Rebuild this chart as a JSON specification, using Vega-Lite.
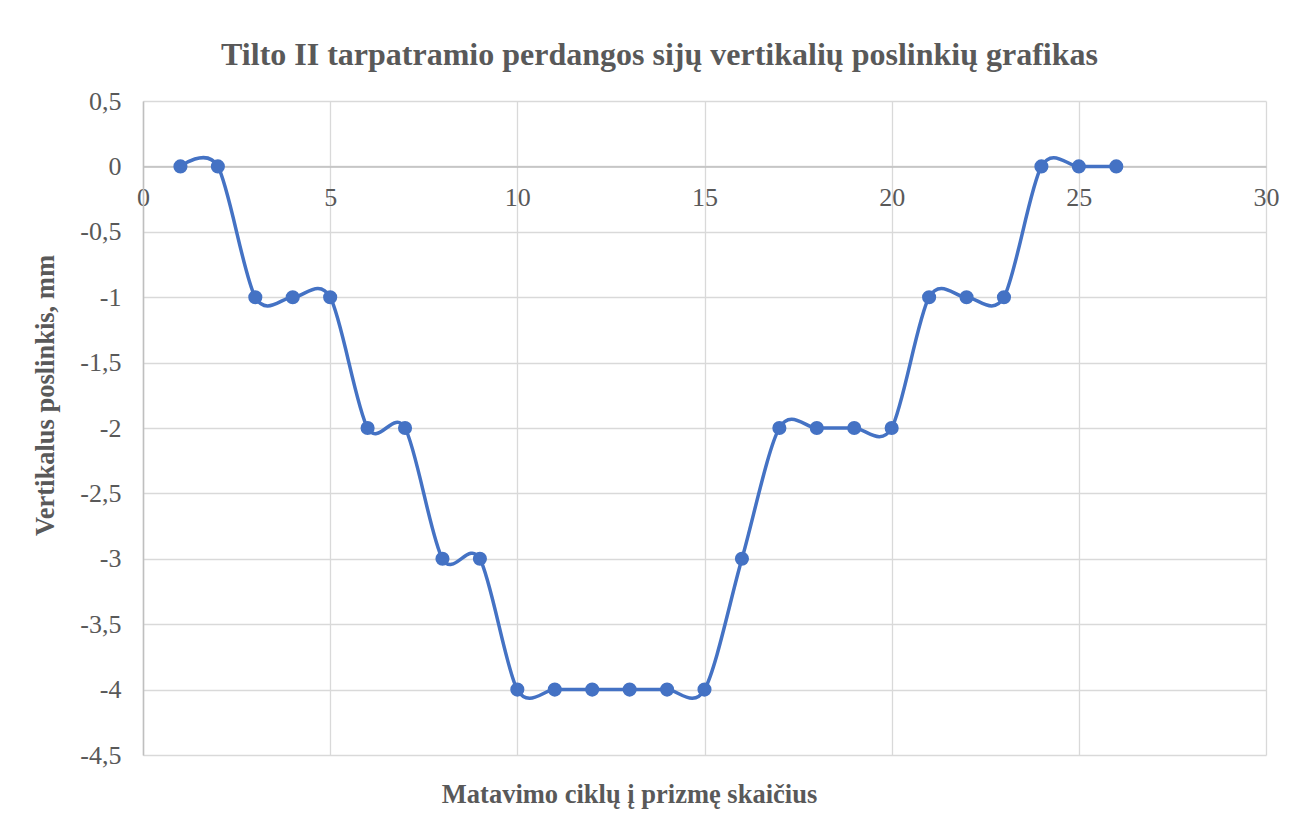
{
  "$schema": "https://vega.github.io/schema/vega-lite/v6.json",
  "autosize": "none",
  "width": 1123,
  "height": 654,
  "padding": {"left": 143, "top": 101, "right": 34, "bottom": 62},
  "background": "white",
  "title": {
    "text": "Tilto II tarpatramio perdangos sijų vertikalių poslinkių grafikas",
    "font": "Liberation Serif",
    "fontSize": 32,
    "fontWeight": "bold",
    "color": "#595959",
    "anchor": "middle",
    "dx": -45,
    "baseline": "alphabetic",
    "offset": -9
  },
  "data": {
    "values": [
      {"ciklas": 1, "poslinkis": 0},
      {"ciklas": 2, "poslinkis": 0},
      {"ciklas": 3, "poslinkis": -1},
      {"ciklas": 4, "poslinkis": -1},
      {"ciklas": 5, "poslinkis": -1},
      {"ciklas": 6, "poslinkis": -2},
      {"ciklas": 7, "poslinkis": -2},
      {"ciklas": 8, "poslinkis": -3},
      {"ciklas": 9, "poslinkis": -3},
      {"ciklas": 10, "poslinkis": -4},
      {"ciklas": 11, "poslinkis": -4},
      {"ciklas": 12, "poslinkis": -4},
      {"ciklas": 13, "poslinkis": -4},
      {"ciklas": 14, "poslinkis": -4},
      {"ciklas": 15, "poslinkis": -4},
      {"ciklas": 16, "poslinkis": -3},
      {"ciklas": 17, "poslinkis": -2},
      {"ciklas": 18, "poslinkis": -2},
      {"ciklas": 19, "poslinkis": -2},
      {"ciklas": 20, "poslinkis": -2},
      {"ciklas": 21, "poslinkis": -1},
      {"ciklas": 22, "poslinkis": -1},
      {"ciklas": 23, "poslinkis": -1},
      {"ciklas": 24, "poslinkis": 0},
      {"ciklas": 25, "poslinkis": 0},
      {"ciklas": 26, "poslinkis": 0}
    ]
  },
  "mark": {
    "type": "line",
    "interpolate": "cardinal",
    "tension": 0.1,
    "color": "#4472C4",
    "strokeWidth": 3.5,
    "point": {"filled": true, "size": 200, "color": "#4472C4", "opacity": 1}
  },
  "encoding": {
    "x": {
      "field": "ciklas",
      "type": "quantitative",
      "scale": {"domain": [0, 30], "nice": false, "zero": false},
      "axis": {
        "title": "Matavimo ciklų į prizmę skaičius",
        "values": [0, 5, 10, 15, 20, 25, 30],
        "offset": -588.6,
        "ticks": false,
        "domainColor": "#bfbfbf",
        "domainWidth": 1.5,
        "gridColor": "#d9d9d9",
        "gridWidth": 1.3,
        "labelFont": "Liberation Serif",
        "labelFontSize": 26,
        "labelColor": "#595959",
        "labelPadding": 18,
        "labelFlush": false,
        "labelOverlap": false,
        "titleFont": "Liberation Serif",
        "titleFontSize": 26.5,
        "titleFontWeight": "bold",
        "titleColor": "#595959",
        "titleX": 486,
        "titleY": 635.6,
        "titleBaseline": "alphabetic",
        "titleAlign": "center"
      }
    },
    "y": {
      "field": "poslinkis",
      "type": "quantitative",
      "scale": {"domain": [-4.5, 0.5], "nice": false, "zero": false},
      "axis": {
        "title": "Vertikalus poslinkis, mm",
        "values": [-4.5, -4, -3.5, -3, -2.5, -2, -1.5, -1, -0.5, 0, 0.5],
        "labelExpr": "replace(toString(datum.value), '.', ',')",
        "ticks": false,
        "domainColor": "#bfbfbf",
        "domainWidth": 1.5,
        "gridColor": "#d9d9d9",
        "gridWidth": 1.3,
        "labelFont": "Liberation Serif",
        "labelFontSize": 26,
        "labelColor": "#595959",
        "labelPadding": 22,
        "labelFlush": false,
        "labelOverlap": false,
        "titleFont": "Liberation Serif",
        "titleFontSize": 26.5,
        "titleFontWeight": "bold",
        "titleColor": "#595959",
        "titleX": -90,
        "titleY": 294,
        "titleAngle": -90,
        "titleBaseline": "alphabetic",
        "titleAlign": "center"
      }
    }
  },
  "config": {
    "view": {"stroke": null}
  }
}
